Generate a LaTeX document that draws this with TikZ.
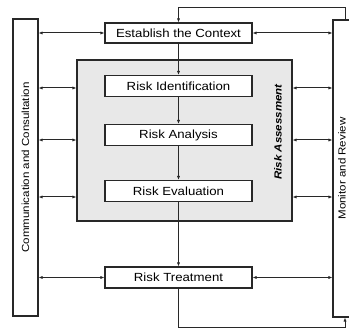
\documentclass[tikz,border=0pt]{standalone}
\usepackage{fontspec}
\usepackage{xcolor}
\usepackage{tikz}
\usetikzlibrary{arrows.meta, positioning, calc}
\newfontfamily\diagfont[FakeStretch=1.12]{Liberation Sans}
\definecolor{linegray}{RGB}{40, 40, 40}
\definecolor{assessgray}{RGB}{232, 232, 232}

\begin{document}
\begin{tikzpicture}[
    x=1pt, y=1pt,
    stepbox/.style={rectangle, draw=linegray, fill=white, line width=1.1pt, minimum width=147pt, minimum height=21pt, inner sep=0pt, align=center, font=\diagfont\fontsize{11.8}{13}\selectfont},
    sidebox/.style={rectangle, draw=linegray, fill=white, line width=1.1pt, minimum height=297pt, inner sep=0pt, font=\diagfont\fontsize{10.3}{12}\selectfont},
    flow/.style={-{Latex[length=4pt, width=3.2pt]}, line width=1pt, color=linegray},
    link/.style={{Latex[length=4pt, width=3.2pt]}-{Latex[length=4pt, width=3.2pt]}, line width=1pt, color=linegray}
]
    \useasboundingbox (0,0) rectangle (349,330);
    \clip (0,0) rectangle (349,330);

    % side columns
    \node[sidebox, minimum width=25pt] (comm) at (25.5,162.5) {\rotatebox{90}{Communication and Consultation}};
    \node[sidebox, minimum width=18pt] (monitor) at (342,161.5) {\rotatebox{90}{Monitor and Review}};

    % assessment block
    \node[rectangle, draw=linegray, fill=assessgray, line width=1.1pt, minimum width=215pt, minimum height=161pt] (assess) at (184.5,189.5) {};
    \node[rotate=90, font=\diagfont\fontsize{10.3}{12}\selectfont\bfseries\itshape] (assesslabel) at (278,198) {Risk Assessment};

    % process steps
    \node[stepbox, minimum height=20pt] (ctx) at (178.5,297) {Establish the Context};
    \node[stepbox] (idf) at (178.5,244) {Risk Identification};
    \node[stepbox] (ana) at (178.5,195) {Risk Analysis};
    \node[stepbox] (evl) at (178.5,139) {Risk Evaluation};
    \node[stepbox] (trt) at (178.5,52.5) {Risk Treatment};

    \draw[flow] (ctx) -- (idf);
    \draw[flow] (idf) -- (ana);
    \draw[flow] (ana) -- (evl);
    \draw[flow] (evl) -- (trt);

    % communication links
    \draw[link] (comm.east |- ctx) -- (ctx.west);
    \draw[link] (comm.east |- 0,242) -- (assess.west |- 0,242);
    \draw[link] (comm.east |- 0,190) -- (assess.west |- 0,190);
    \draw[link] (comm.east |- 0,133) -- (assess.west |- 0,133);
    \draw[link] (comm.east |- trt) -- (trt.west);

    % monitor links
    \draw[link] (ctx.east) -- (monitor.west |- ctx);
    \draw[link] (assess.east |- 0,242) -- (monitor.west |- 0,242);
    \draw[link] (assess.east |- 0,190) -- (monitor.west |- 0,190);
    \draw[link] (assess.east |- 0,133) -- (monitor.west |- 0,133);
    \draw[link] (trt.east) -- (monitor.west |- trt);

    % feedback loop
    \coordinate (looptop) at (345,322);
    \coordinate (loopbot) at (345,2);
    \draw[flow] (looptop |- monitor.north) -- (looptop) -| (ctx.north);
    \draw[flow] (trt.south) |- (loopbot) -- (loopbot |- monitor.south);
\end{tikzpicture}
\end{document}
